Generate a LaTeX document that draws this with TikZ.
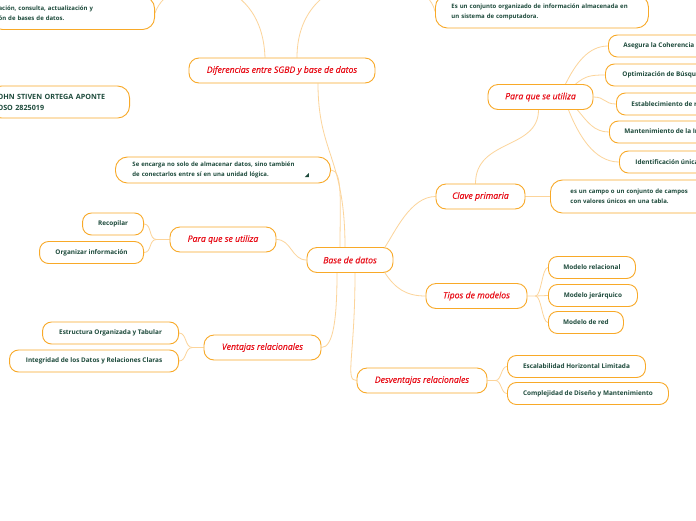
\documentclass[tikz,border=0pt]{standalone}
\usepackage{fontspec}
\setmainfont{Open Sans}
\newfontfamily\titlefont{Open Sans Italic}[FakeBold=0.5]
\usepackage{xcolor}
\usetikzlibrary{calc, backgrounds}

\definecolor{mmorange}{HTML}{F8A928}
\definecolor{mmlink}{HTML}{FCD49A}
\definecolor{mmred}{HTML}{E8101A}
\definecolor{mmgreen}{HTML}{1E4B3C}

\begin{document}
\begin{tikzpicture}[
    x=1pt, y=-1pt,
    line width=0.9pt,
    topic/.style={draw=mmorange, fill=white, rounded corners=10pt,
                  minimum height=25pt, inner sep=2pt, text=mmred,
                  font=\fontsize{8.7}{10}\titlefont},
    leaf/.style={draw=mmorange, fill=white, rounded corners=9pt,
                 minimum height=22pt, inner sep=2pt, text=mmgreen,
                 font=\fontsize{6.4}{7}\selectfont\bfseries},
    note/.style={draw=mmorange, fill=white, rounded corners=12pt,
                 align=left, text=mmgreen,
                 font=\fontsize{6}{10}\selectfont\bfseries},
    link/.style={draw=mmlink, line width=0.8pt},
]
    \useasboundingbox (0,0) rectangle (696,520);

    % Centro
    \node[topic, minimum width=86pt] (base) at (350,260) {Base de datos};

    % Diferencias
    \node[topic, minimum width=186pt] (dif) at (282,70.5)
          {Diferencias entre SGBD y base de datos};
    \node[note, anchor=east, inner xsep=8pt, text width=148pt,
          minimum height=33pt] (gestion) at (155,13)
          {ación, consulta, actualización y\\ón de bases de datos.};
    \node[note, anchor=west, inner xsep=16pt, text width=181pt,
          minimum height=33pt] (conjunto) at (435,11.5)
          {Es un conjunto organizado de información almacenada en\\un sistema de computadora.};

    % Autor
    \node[note, anchor=east, inner xsep=8pt, text width=124pt,
          minimum height=32pt, font=\fontsize{7.2}{11}\selectfont\bfseries]
          (autor) at (130,102) {OHN STIVEN ORTEGA APONTE\\OSO 2825019};

    % Descripcion
    \node[note, anchor=west, inner xsep=17pt, text width=181pt,
          minimum height=26pt] (encarga) at (115,170)
          {Se encarga no solo de almacenar datos, sino también\\de conectarlos entre sí en una unidad lógica.};
    \fill[mmgreen] ($(encarga.east)+(-26,7)$) -- ++(4,0) -- ++(0,-4) -- cycle;

    % Para que se utiliza (izquierda)
    \node[topic, minimum width=106pt] (usoizq) at (223,239.5) {Para que se utiliza};
    \node[leaf, anchor=east, minimum width=61pt] (recopilar) at (144,224) {Recopilar};
    \node[leaf, anchor=east, minimum width=104pt] (organizar) at (144,252.5) {Organizar información};

    % Ventajas
    \node[topic, minimum width=117pt] (ventajas) at (262.5,347.5) {Ventajas relacionales};
    \node[leaf, anchor=east, minimum width=136pt] (estructura) at (179,333)
          {Estructura Organizada y Tabular};
    \node[leaf, anchor=east, minimum width=169pt] (integridad) at (179,361)
          {Integridad de los Datos y Relaciones Claras};

    % Clave primaria
    \node[topic, minimum width=89pt] (clave) at (480.5,196.5) {Clave primaria};
    \node[note, anchor=west, inner xsep=20pt, text width=150pt,
          minimum height=33pt] (campo) at (550,196.5)
          {es un campo o un conjunto de campos\\con valores únicos en una tabla.};

    % Para que se utiliza (derecha)
    \node[topic, minimum width=105pt] (usoder) at (540.5,97) {Para que se utiliza};
    \node[leaf, anchor=west, inner xsep=15pt] (coherencia) at (608,46)
          {Asegura la Coherencia de los Datos};
    \node[leaf, anchor=west, inner xsep=17pt] (busqueda) at (605,75)
          {Optimización de Búsquedas};
    \node[leaf, anchor=west, inner xsep=15pt] (relaciones) at (616,104)
          {Establecimiento de relaciones};
    \node[leaf, anchor=west, inner xsep=15pt] (mantenimiento) at (609,132)
          {Mantenimiento de la Integridad};
    \node[leaf, anchor=west, inner xsep=16pt] (unica) at (619,162)
          {Identificación única};

    % Tipos de modelos
    \node[topic, minimum width=101pt] (tipos) at (476.5,296) {Tipos de modelos};
    \node[leaf, anchor=west, minimum width=87pt] (relacional) at (548,267.5) {Modelo relacional};
    \node[leaf, anchor=west, minimum width=89pt] (jerarquico) at (548,295.5) {Modelo jerárquico};
    \node[leaf, anchor=west, minimum width=75pt] (red) at (548,322.5) {Modelo de red};

    % Desventajas
    \node[topic, minimum width=130pt] (desventajas) at (422,380.5) {Desventajas relacionales};
    \node[leaf, anchor=west, minimum width=138pt] (escalabilidad) at (507,366.5)
          {Escalabilidad Horizontal Limitada};
    \node[leaf, anchor=west, minimum width=161pt] (complejidad) at (507,393.5)
          {Complejidad de Diseño y Mantenimiento};

    % Conectores
    \begin{scope}[on background layer]
        \fill[white] (0,0) rectangle (696,520);

        \draw[link] ([xshift=-5pt]base.north) .. controls +(0,-90) and +(0,70) .. ([xshift=36pt]dif.south);
        \draw[link] ([xshift=-10pt]base.north) .. controls +(0,-45) and +(12,0) .. (encarga.east);
        \draw[link] ([xshift=-17pt]dif.north) .. controls (262,-30) and (170,-30) .. (gestion.east);
        \draw[link] ([xshift=15pt]dif.north) .. controls (297,-40) and (425,-35) .. (conjunto.west);

        \draw[link] (base.west) .. controls +(-15,0) and +(15,0) .. (usoizq.east);
        \draw[link] ([xshift=-13pt]base.south) .. controls +(0,45) and +(12,0) .. (ventajas.east);
        \draw[link] ([xshift=5pt]base.south) .. controls +(0,85) and +(-12,0) .. (desventajas.west);
        \draw[link] ([xshift=35pt]base.south) .. controls +(10,15) and +(-20,0) .. (tipos.west);
        \draw[link] ([xshift=35pt]base.north) .. controls +(10,-15) and +(-25,0) .. (clave.west);

        \draw[link] ([xshift=-5pt]clave.north) .. controls +(0,-45) and +(0,40) .. ([xshift=-2pt]usoder.south);
        \draw[link] (clave.east) -- (campo.west);

        \draw[link] ([xshift=25pt]usoder.north) .. controls +(10,-20) and +(-20,0) .. (coherencia.west);
        \draw[link] ([xshift=35pt]usoder.north) .. controls +(10,-8) and +(-15,0) .. (busqueda.west);
        \draw[link] (usoder.east) .. controls +(12,0) and +(-12,0) .. (relaciones.west);
        \draw[link] ([xshift=37pt]usoder.south) .. controls +(10,12) and +(-15,0) .. (mantenimiento.west);
        \draw[link] ([xshift=28pt]usoder.south) .. controls +(10,25) and +(-25,0) .. (unica.west);

        \coordinate (usoizqj) at ($(usoizq.west)+(-13,0)$);
        \draw[link] (usoizq.west) -- (usoizqj) .. controls +(-8,0) and +(8,0) .. (recopilar.east);
        \draw[link] (usoizqj) .. controls +(-8,0) and +(8,0) .. (organizar.east);

        \coordinate (ventajasj) at ($(ventajas.west)+(-11,0)$);
        \draw[link] (ventajas.west) -- (ventajasj) .. controls +(-8,0) and +(8,0) .. (estructura.east);
        \draw[link] (ventajasj) .. controls +(-8,0) and +(8,0) .. (integridad.east);

        \coordinate (tiposj) at ($(tipos.east)+(8,0)$);
        \draw[link] (tipos.east) -- (tiposj) .. controls +(6,0) and +(-6,0) .. (relacional.west);
        \draw[link] (tiposj) -- (jerarquico.west);
        \draw[link] (tiposj) .. controls +(6,0) and +(-6,0) .. (red.west);

        \coordinate (desventajasj) at ($(desventajas.east)+(8,0)$);
        \draw[link] (desventajas.east) -- (desventajasj) .. controls +(6,0) and +(-6,0) .. (escalabilidad.west);
        \draw[link] (desventajasj) .. controls +(6,0) and +(-6,0) .. (complejidad.west);
    \end{scope}
\end{tikzpicture}
\end{document}
